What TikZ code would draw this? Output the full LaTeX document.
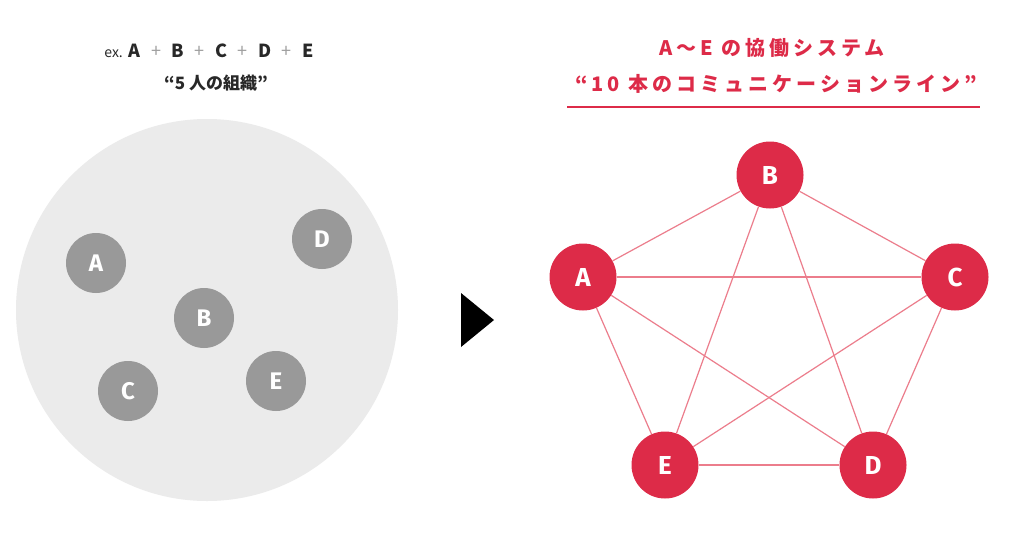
\documentclass[tikz,border=0pt]{standalone}
\usepackage{fontspec}
\newfontfamily\jp{Noto Sans CJK JP}
\newfontfamily\jpsp[LetterSpace=20]{Noto Sans CJK JP}
\newfontfamily\lab{Fira Sans}
\definecolor{bggray}{RGB}{235,235,235}
\definecolor{nodegray}{RGB}{153,153,153}
\definecolor{redn}{RGB}{221,43,72}
\definecolor{redl}{RGB}{236,125,140}
\definecolor{txt}{RGB}{40,40,40}
\definecolor{plus}{RGB}{160,160,160}
\newcommand{\pl}{\hspace{10.5pt}{\color{plus}\mdseries+}\hspace{10.5pt}}
\tikzset{
  gnode/.style={circle, fill=nodegray, minimum size=60pt, inner sep=0pt, text=white, font=\lab\bfseries\fontsize{24}{24}\selectfont},
  rnode/.style={circle, fill=redn, minimum size=67pt, inner sep=0pt, text=white, font=\lab\bfseries\fontsize{26}{26}\selectfont},
  edge/.style={draw=redl, line width=1.2pt},
  ltitle/.style={text=txt, font=\jp\bfseries\fontsize{18}{18}\selectfont},
  ltitleb/.style={text=txt, font=\jp\bfseries\fontsize{17}{17}\selectfont},
  rtitle/.style={text=redn, font=\jpsp\bfseries\fontsize{20}{20}\selectfont}
}
\begin{document}
\begin{tikzpicture}[x=1pt,y=-1pt]
\useasboundingbox (0,0) rectangle (1024,544);
\fill[white] (0,0) rectangle (1024,544);
% left titles
\node[ltitle] (lt1) at (209,51) {{\mdseries\fontsize{14}{14}\selectfont ex.}\hspace{6pt}A\pl B\pl C\pl D\pl E};
\node[ltitleb] (lt2) at (216,83) {“5 人の組織”};
% organisation circle
\node[circle, fill=bggray, minimum size=382pt, inner sep=0pt] (org) at (207,310) {};
\node[gnode] (gA) at (96,263) {A};
\node[gnode] (gD) at (322,239) {D};
\node[gnode] (gB) at (204,318) {B};
\node[gnode] (gC) at (128,391) {C};
\node[gnode] (gE) at (276,381) {E};
% arrow
\fill[black] (461,293) -- (494,320) -- (461,347) -- cycle;
% right titles
\node[rtitle] (rt1) at (772,48) {A〜E の協働システム};
\node[rtitle] (rt2) at (776,84) {“10 本のコミュニケーションライン”};
\coordinate (ul1) at (567,107);
\coordinate (ul2) at (980,107);
\draw[redn, line width=2.8pt] (ul1) -- (ul2);
% network
\node[rnode] (A) at (583,277) {A};
\node[rnode] (B) at (770,175) {B};
\node[rnode] (C) at (955,277) {C};
\node[rnode] (D) at (873,465) {D};
\node[rnode] (E) at (665,465) {E};
\foreach \a/\b in {A/B,A/C,A/D,A/E,B/C,B/D,B/E,C/D,C/E,D/E}
  \draw[edge] (\a) -- (\b);
\end{tikzpicture}
\end{document}
